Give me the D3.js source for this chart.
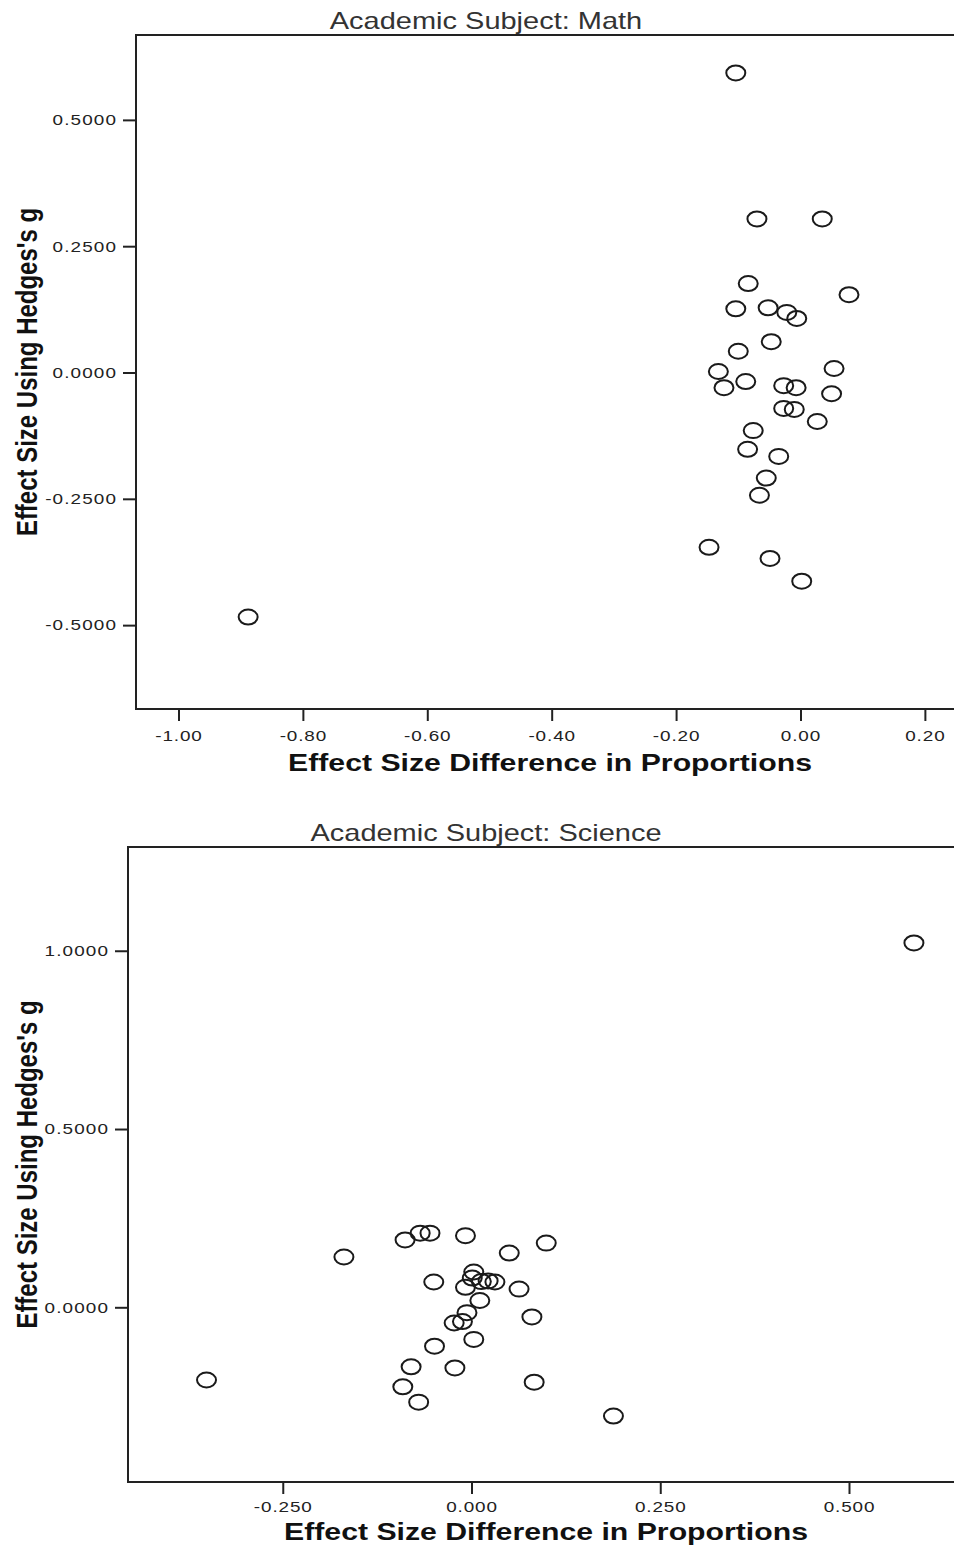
<!DOCTYPE html>
<html>
<head>
<meta charset="utf-8">
<script src="https://cdn.jsdelivr.net/npm/d3@7"></script>
<style>
  body { margin: 0; background: #fff; }
  svg { display: block; font-family: "Liberation Sans", Arial, sans-serif; }
</style>
</head>
<body>
<div id="chart"></div>
<script>
// Math panel
var mathX = [-0.104, -0.070, 0.035, -0.084, 0.078, -0.104, -0.052, -0.022, -0.006, -0.047,
             -0.100, 0.054, -0.132, -0.088, -0.123, -0.027, -0.007, 0.050, -0.027, -0.010,
             0.027, -0.076, -0.085, -0.035, -0.055, -0.066, -0.147, -0.049, 0.002, -0.888]
var mathY = [0.593, 0.304, 0.304, 0.176, 0.154, 0.126, 0.128, 0.119, 0.107, 0.061,
             0.042, 0.008, 0.002, -0.018, -0.030, -0.026, -0.030, -0.042, -0.071, -0.073,
             -0.097, -0.115, -0.152, -0.166, -0.209, -0.243, -0.346, -0.368, -0.413, -0.484]
var mathXTicks = [-1.00, -0.80, -0.60, -0.40, -0.20, 0.00, 0.20]
var mathXLabels = ["-1.00", "-0.80", "-0.60", "-0.40", "-0.20", "0.00", "0.20"]
var mathYTicks = [0.5, 0.25, 0, -0.25, -0.5]
var mathYLabels = ["0.5000", "0.2500", "0.0000", "-0.2500", "-0.5000"]

// Science panel
var sciX = [0.586, -0.169, -0.088, -0.068, -0.055, -0.008, 0.050, 0.099, -0.050,
            0.003, 0.001, 0.013, 0.022, 0.031, -0.008, 0.063, 0.011, -0.006, -0.012,
            -0.023, 0.080, 0.003, -0.049, -0.080, -0.022, -0.351, -0.091, 0.083, -0.070, 0.188]
var sciY = [1.022, 0.141, 0.189, 0.208, 0.208, 0.201, 0.152, 0.180, 0.071,
            0.099, 0.082, 0.072, 0.074, 0.071, 0.056, 0.051, 0.019, -0.015, -0.040,
            -0.044, -0.027, -0.090, -0.109, -0.167, -0.170, -0.204, -0.223, -0.210, -0.266, -0.305]
var sciXTicks = [-0.25, 0, 0.25, 0.5]
var sciXLabels = ["-0.250", "0.000", "0.250", "0.500"]
var sciYTicks = [1, 0.5, 0]
var sciYLabels = ["1.0000", "0.5000", "0.0000"]

var width = 954,
    height = 1546,
    stretch = 1.26

var svg = d3.select("#chart")
    .append("svg")
    .attr("width", width)
    .attr("height", height)

function drawPanel(opt) {
    var x = d3.scaleLinear().domain(opt.xDomain).range([opt.left, opt.right])
    var y = d3.scaleLinear().domain(opt.yDomain).range([opt.bottom, opt.top])

    var g = svg.append("g")

    var points = opt.xs.map(function(d, i) { return { x: d, y: opt.ys[i] } })

    g.append("text")
        .attr("transform", "translate(" + opt.titleX + "," + (opt.top - 6) + ") scale(" + stretch + ",1)")
        .attr("text-anchor", "middle")
        .attr("font-size", 23)
        .attr("fill", "#333")
        .text(opt.title)

    var xAxis = g.append("g")
        .attr("transform", "translate(0," + opt.bottom + ")")
        .call(d3.axisBottom(x)
            .tickValues(opt.xTicks)
            .tickFormat(function(d, i) { return opt.xLabels[i] })
            .tickSize(12)
            .tickPadding(opt.xPad))
    xAxis.select(".domain").remove()
    xAxis.selectAll(".tick line").attr("stroke", "#222").attr("stroke-width", 2)
    xAxis.selectAll(".tick text")
        .attr("transform", "scale(" + stretch + ",1)")
        .attr("font-size", 15)
        .attr("letter-spacing", 0.7)
        .attr("fill", "#222")

    var yAxis = g.append("g")
        .attr("transform", "translate(" + opt.left + ",0)")
        .call(d3.axisLeft(y)
            .tickValues(opt.yTicks)
            .tickFormat(function(d, i) { return opt.yLabels[i] })
            .tickSize(13)
            .tickPadding(2))
    yAxis.select(".domain").remove()
    yAxis.selectAll(".tick line").attr("stroke", "#222").attr("stroke-width", 2)
    yAxis.selectAll(".tick text")
        .attr("transform", "scale(" + stretch + ",1)")
        .attr("font-size", 15)
        .attr("letter-spacing", 0.9)
        .attr("fill", "#222")

    // frame, its right side runs past the page edge
    g.append("path")
        .attr("d", "M" + (width + 20) + "," + opt.top + "H" + opt.left + "V" + opt.bottom + "H" + (width + 20))
        .attr("fill", "none")
        .attr("stroke", "#222")
        .attr("stroke-width", 2)

    g.selectAll(".pt")
        .data(points)
        .enter().append("ellipse")
        .attr("class", "pt")
        .attr("cx", function(d) { return x(d.x) })
        .attr("cy", function(d) { return y(d.y) })
        .attr("rx", 9.5)
        .attr("ry", 7.5)
        .attr("fill", "none")
        .attr("stroke", "#1a1a1a")
        .attr("stroke-width", 2)

    g.append("text")
        .attr("transform", "translate(" + ((opt.left + 964) / 2) + "," + opt.xLabelY + ") scale(" + stretch + ",1)")
        .attr("text-anchor", "middle")
        .attr("font-size", 24)
        .attr("font-weight", "bold")
        .attr("fill", "#111")
        .text("Effect Size Difference in Proportions")

    g.append("text")
        .attr("transform", "translate(37," + ((opt.top + opt.bottom) / 2) + ") scale(" + stretch + ",1) rotate(-90)")
        .attr("text-anchor", "middle")
        .attr("font-size", 24)
        .attr("font-weight", "bold")
        .attr("fill", "#111")
        .text("Effect Size Using Hedges's g")
}

drawPanel({
    title: "Academic Subject: Math",
    titleX: 486,
    xs: mathX, ys: mathY,
    xDomain: [-1.0683, 0.2854], yDomain: [-0.666, 0.668],
    left: 136, right: 978, top: 35, bottom: 709,
    xTicks: mathXTicks, xLabels: mathXLabels, xPad: 9,
    yTicks: mathYTicks, yLabels: mathYLabels,
    xLabelY: 771
})

drawPanel({
    title: "Academic Subject: Science",
    titleX: 486,
    xs: sciX, ys: sciY,
    xDomain: [-0.4550, 0.6563], yDomain: [-0.490, 1.291],
    left: 128, right: 967, top: 847, bottom: 1482,
    xTicks: sciXTicks, xLabels: sciXLabels, xPad: 7,
    yTicks: sciYTicks, yLabels: sciYLabels,
    xLabelY: 1540
})
</script>
</body>
</html>
